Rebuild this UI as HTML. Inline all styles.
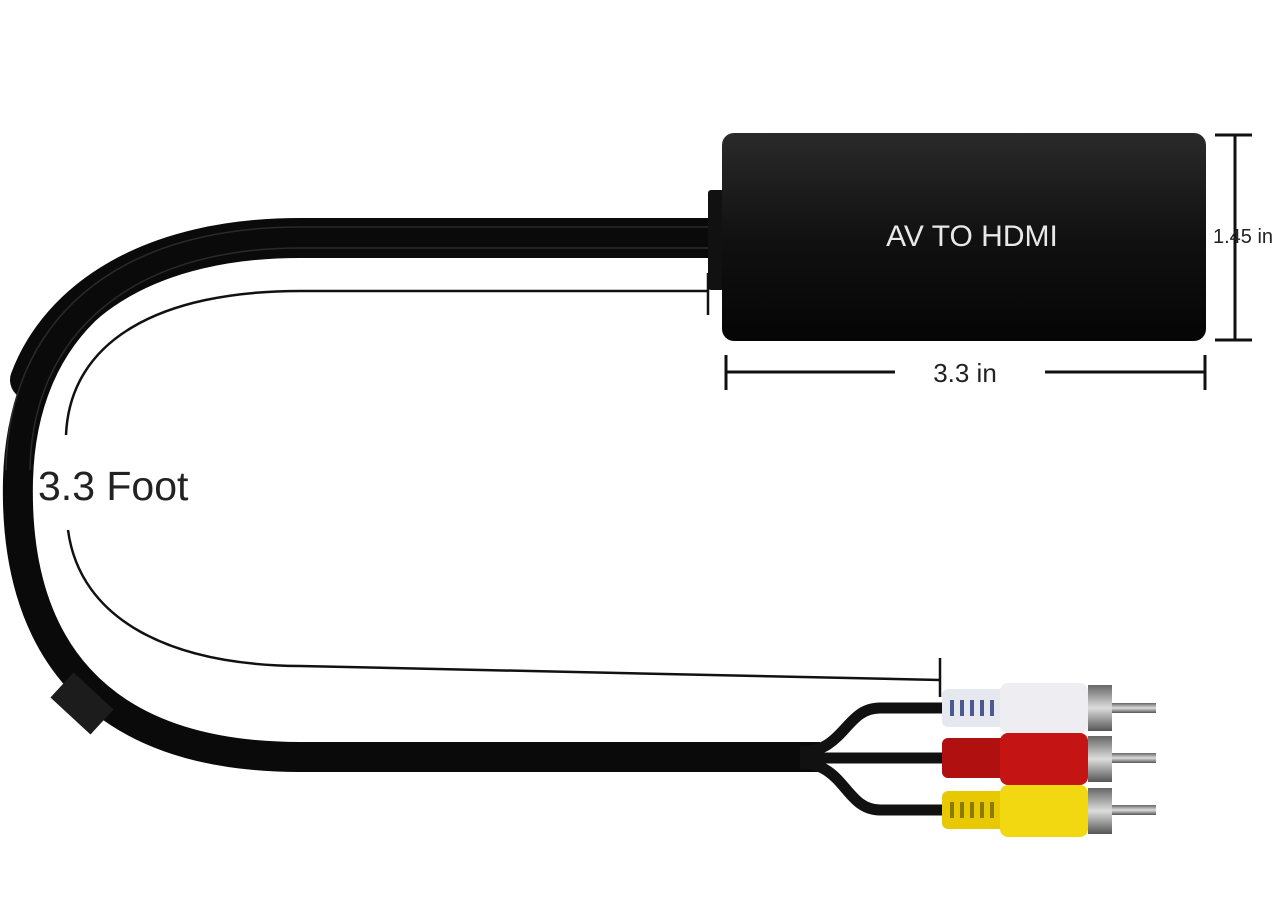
<!DOCTYPE html>
<html><head><style>body{margin:0;background:#fff}svg{display:block}</style></head><body>
<svg width="1284" height="919" viewBox="0 0 1284 919" xmlns="http://www.w3.org/2000/svg" font-family="Liberation Sans, sans-serif">
<defs>
<linearGradient id="bx" x1="0" y1="0" x2="0" y2="1"><stop offset="0" stop-color="#2a2a2a"/><stop offset="0.5" stop-color="#111"/><stop offset="1" stop-color="#050505"/></linearGradient>
<linearGradient id="mt" x1="0" y1="0" x2="0" y2="1"><stop offset="0" stop-color="#666"/><stop offset="0.5" stop-color="#ddd"/><stop offset="1" stop-color="#555"/></linearGradient>
</defs>
<!-- main cable -->
<path d="M712 238 L300 238 C120 238 22 330 18 480 C14 640 90 757 300 757 L820 757" fill="none" stroke="#0a0a0a" stroke-width="30"/>
<path d="M712 238 L300 238 C150 238 60 300 30 380" fill="none" stroke="#0a0a0a" stroke-width="40" stroke-linecap="round"/>
<path d="M712 227 L300 227 C110 227 8 325 6 470" fill="none" stroke="#2a2a2a" stroke-width="1.5"/>
<path d="M712 248 L300 248 C130 248 32 335 30 470" fill="none" stroke="#2a2a2a" stroke-width="1.5"/>
<path d="M62 685 L102 722" stroke="#1c1c1c" stroke-width="34"/>
<!-- branches -->
<path d="M800 752 C845 752 845 708 880 708 L945 708" fill="none" stroke="#111" stroke-width="11"/>
<path d="M800 758 L945 758" fill="none" stroke="#111" stroke-width="11"/>
<path d="M800 763 C845 763 845 810 880 810 L945 810" fill="none" stroke="#111" stroke-width="11"/>
<!-- RCA plugs -->
<g>
<rect x="942" y="689" width="70" height="38" rx="6" fill="#e6e8f0"/><rect x="1000" y="683" width="88" height="50" rx="8" fill="#eeeef2"/>
<g fill="#4a5a90"><rect x="950" y="700" width="4" height="16"/><rect x="960" y="700" width="4" height="16"/><rect x="970" y="700" width="4" height="16"/><rect x="980" y="700" width="4" height="16"/><rect x="990" y="700" width="4" height="16"/></g>
<rect x="1088" y="685" width="24" height="46" fill="url(#mt)"/><rect x="1112" y="703" width="44" height="10" fill="url(#mt)"/>
</g>
<g>
<rect x="942" y="738" width="70" height="40" rx="6" fill="#b01010"/><rect x="1000" y="733" width="88" height="52" rx="8" fill="#c41414"/>
<rect x="1088" y="736" width="24" height="46" fill="url(#mt)"/><rect x="1112" y="753" width="44" height="10" fill="url(#mt)"/>
</g>
<g>
<rect x="942" y="791" width="70" height="38" rx="6" fill="#e8c800"/><rect x="1000" y="785" width="88" height="52" rx="8" fill="#f2d810"/>
<g fill="#8a7a00"><rect x="950" y="802" width="4" height="16"/><rect x="960" y="802" width="4" height="16"/><rect x="970" y="802" width="4" height="16"/><rect x="980" y="802" width="4" height="16"/><rect x="990" y="802" width="4" height="16"/></g>
<rect x="1088" y="788" width="24" height="46" fill="url(#mt)"/><rect x="1112" y="805" width="44" height="10" fill="url(#mt)"/>
</g>
<!-- box -->
<rect x="708" y="190" width="20" height="100" rx="3" fill="#111"/>
<rect x="722" y="133" width="484" height="208" rx="12" fill="url(#bx)"/>
<text x="972" y="246" font-size="30" fill="#e8e8e8" text-anchor="middle">AV TO HDMI</text>
<!-- dimension lines -->
<g stroke="#111" stroke-width="3" fill="none">
<path d="M1235 135 V340 M1215 135 H1252 M1215 340 H1252"/>
<path d="M726 372 H895 M1045 372 H1205 M726 355 V390 M1205 355 V390"/>
<path d="M708 291 L300 291 C160 291 70 340 66 435" stroke-width="2.5"/>
<path d="M68 530 C80 620 170 665 300 666 L940 680" stroke-width="2.5"/>
<path d="M708 273 V315 M940 658 V697" stroke-width="2.5"/>
</g>
<text x="965" y="382" font-size="26" fill="#222" text-anchor="middle">3.3 in</text>
<text x="1213" y="243" font-size="20" fill="#222">1.45 in</text>
<text x="38" y="500" font-size="41" fill="#222">3.3 Foot</text>
</svg>
</body></html>
